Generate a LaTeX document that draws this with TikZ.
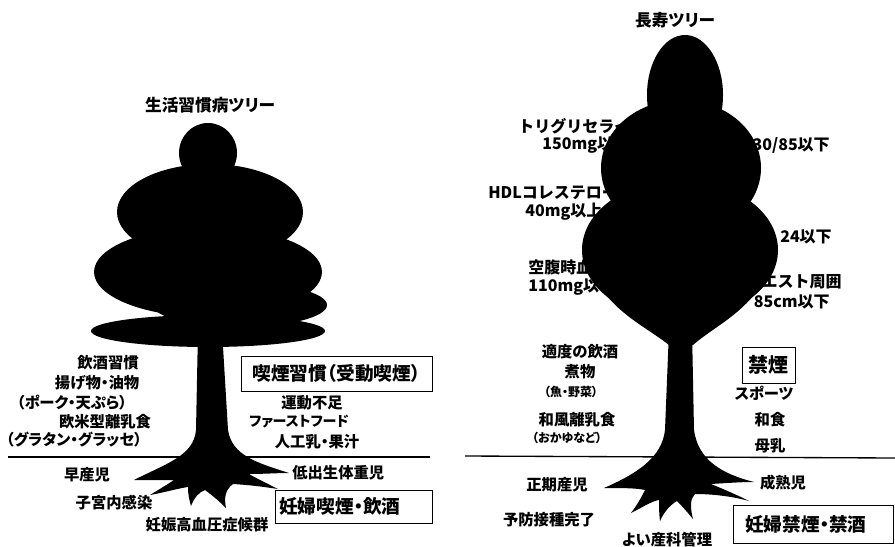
\documentclass[tikz,border=0pt]{standalone}
\usepackage{fontspec}
\setmainfont{Noto Sans CJK JP}[RawFeature=+palt]
\newfontfamily\jpfull{Noto Sans CJK JP}
\begin{document}
\begin{tikzpicture}[x=0.75pt,y=-0.75pt,
  lbl/.style={inner sep=0pt, font=\bfseries\fontsize{11.5}{13}\selectfont},
  wide/.style={inner sep=0pt, font=\jpfull\bfseries\fontsize{12}{14}\selectfont},
  sml/.style={inner sep=0pt, font=\bfseries\fontsize{9}{10}\selectfont},
  ttl/.style={inner sep=0pt, font=\bfseries\fontsize{12.5}{15}\selectfont},
  boxed/.style={draw, line width=0.6pt, inner ysep=0pt, inner xsep=3pt, font=\bfseries\fontsize{14}{16}\selectfont},
  canopy/.style={fill=black},
  trunk/.style={fill=black},
  ground/.style={line width=1pt}]

% page area
\useasboundingbox (0,0) rectangle (895,546);
\fill[white] (0,0) rectangle (895,546);

% ---------------- left tree: lifestyle disease tree ----------------
\node[ttl] (t1) at (210,105) {生活習慣病ツリー};

\node[lbl] (l1) at (108,363) {飲酒習慣};
\node[lbl] (l2) at (97,383) {揚げ物・油物};
\node[lbl] (l3) at (72,403) {（ポーク・天ぷら）};
\node[lbl] (l4) at (105,422) {欧米型離乳食};
\node[lbl] (l5) at (74,440) {（グラタン・グラッセ）};

\node[boxed, minimum width=143.25pt, minimum height=26.25pt] (smoke) at (336.5,373.5) {喫煙習慣（受動喫煙）};
\node[lbl] (r1) at (312,403) {運動不足};
\node[lbl, font=\bfseries\fontsize{10.5}{12}\selectfont] (r2) at (299,422) {ファーストフード};
\node[lbl] (r3) at (317,442) {人工乳・果汁};

\node[lbl] (g1) at (87,475) {早産児};
\node[lbl] (g2) at (114,503) {子宮内感染};
\node[lbl] (g3) at (207,525) {妊娠高血圧症候群};
\node[lbl, anchor=west] (g4) at (292,473) {低出生体重児};
\node[boxed, minimum width=117.75pt, minimum height=24.75pt, text width=111.75pt, align=left] (preg1) at (353.5,506.5) {妊婦喫煙・飲酒};

\draw[ground] (8,457) -- (430,457);

% crown
\fill[canopy] (208,153) ellipse [x radius=29, y radius=30];
\fill[canopy] (210,212) ellipse [x radius=93, y radius=48];
\fill[canopy] (208,272) ellipse [x radius=114, y radius=45];
\fill[canopy] (240,305) ellipse [x radius=87, y radius=22];
\fill[canopy] (208,331) ellipse [x radius=117, y radius=16];

% trunk and roots
\fill[trunk] (198,330) -- (196,430)
  .. controls (194,456) and (165,464) .. (134,480)
  .. controls (152,480) and (166,480) .. (174,480)
  .. controls (165,486) and (158,490) .. (150,495)
  .. controls (166,492) and (180,488) .. (188,487)
  .. controls (188,494) and (189,499) .. (191,506)
  .. controls (194,498) and (199,492) .. (205,490)
  .. controls (213,496) and (219,501) .. (226,508)
  .. controls (224,498) and (225,490) .. (233,484)
  .. controls (250,485) and (265,487) .. (278,489)
  .. controls (264,482) and (254,477) .. (249,474)
  .. controls (264,474) and (276,473) .. (289,473)
  .. controls (258,463) and (232,456) .. (228,430)
  -- (222,330) -- cycle;

% ---------------- right tree: longevity tree ----------------
\node[ttl] (t2) at (675,20) {長寿ツリー};

\node[wide, anchor=west] (a1) at (518,126) {トリグリセライド};
\node[wide, anchor=west] (a2) at (542,145) {150mg以下};
\node[wide, anchor=west] (a3) at (488,193) {HDLコレステロール};
\node[wide, anchor=west] (a4) at (525,212) {40mg以上};
\node[wide, anchor=west] (a5) at (528,267) {空腹時血糖};
\node[wide, anchor=west] (a6) at (528,287) {110mg以下};
\node[wide, anchor=east] (b1) at (830,145) {血圧130/85以下};
\node[wide, anchor=east] (b2) at (832,237) {24以下};
\node[wide, anchor=east] (b3) at (842,282) {ウエスト周囲};
\node[wide, anchor=east] (b4) at (830,302) {85cm以下};

\node[lbl] (c1) at (580,352) {適度の飲酒};
\node[lbl] (c2) at (580,372) {煮物};
\node[sml] (c3) at (571,392) {（魚・野菜）};
\node[lbl] (c4) at (577,420) {和風離乳食};
\node[sml] (c5) at (567,438) {（おかゆなど）};

\node[boxed, font=\bfseries\fontsize{15}{17}\selectfont, minimum width=39.75pt, minimum height=27pt] (nosmoke) at (768.5,365) {禁煙};
\node[lbl] (d1) at (764,393) {スポーツ};
\node[lbl] (d2) at (770,420) {和食};
\node[lbl] (d3) at (770,446) {母乳};

\node[lbl] (e1) at (557,485) {正期産児};
\node[lbl] (e2) at (549,520) {予防接種完了};
\node[lbl] (e3) at (667,540) {よい産科管理};
\node[lbl] (e4) at (783,483) {成熟児};
\node[boxed, minimum width=120pt, minimum height=28.5pt, inner xsep=9pt, text width=102pt, align=left] (preg2) at (813,524) {妊婦禁煙・禁酒};

\draw[ground] (465,456) -- (895,458);

% crown
\fill[canopy] (685,95) ellipse [x radius=38, y radius=60];
\fill[canopy] (681,168) ellipse [x radius=80, y radius=68];
\fill[canopy] (680,250) ellipse [x radius=98, y radius=70];
\fill[canopy] (606,295) .. controls (625,318) and (650,330) .. (669,345)
  -- (693,345) .. controls (710,330) and (735,318) .. (754,295) -- cycle;

% trunk and roots
\fill[trunk] (669,330) -- (665,430)
  .. controls (662,458) and (636,474) .. (604,488)
  .. controls (622,488) and (636,488) .. (645,490)
  .. controls (641,498) and (637,505) .. (631,513)
  .. controls (643,507) and (652,501) .. (659,500)
  .. controls (659,507) and (659,513) .. (660,521)
  .. controls (664,512) and (670,505) .. (677,501)
  .. controls (683,507) and (688,513) .. (693,519)
  .. controls (690,507) and (690,499) .. (695,494)
  .. controls (715,494) and (735,497) .. (749,501)
  .. controls (731,492) and (718,487) .. (711,484)
  .. controls (727,483) and (741,482) .. (754,482)
  .. controls (722,474) and (698,460) .. (694,430)
  -- (692,330) -- cycle;

\end{tikzpicture}
\end{document}
